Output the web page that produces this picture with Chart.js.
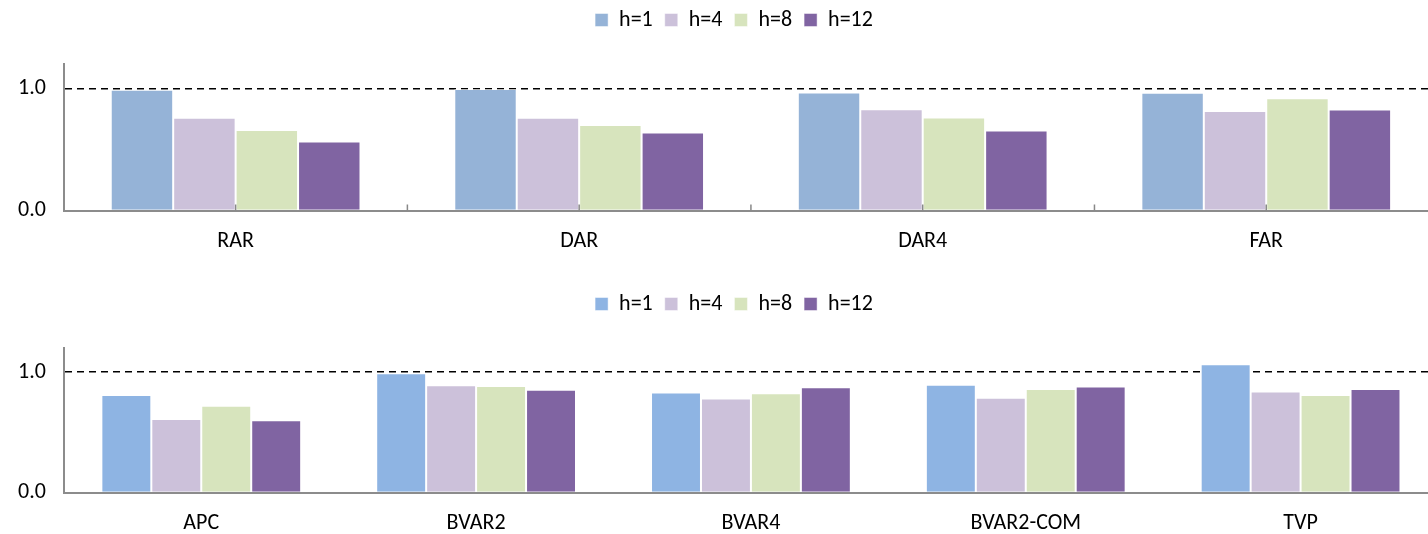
<!DOCTYPE html>
<html lang="en">
<head>
  <meta charset="UTF-8">
  <title>Relative forecast accuracy</title>
  <script src="https://cdn.jsdelivr.net/npm/chart.js"></script>
  <style>
    body {
      margin: 0;
      background: #ffffff;
      overflow: hidden;
    }
    .page {
      width: 1428px;
      height: 534px;
      overflow: hidden;
      position: relative;
    }
    .panel {
      position: absolute;
      left: 0;
      width: 1442px;
    }
    #top { top: -3px; height: 268px; }
    #bottom { top: 281px; height: 266px; }
  </style>
</head>
<body>

  <div class="page">
    <div class="panel" id="top"><canvas id="chartTop"></canvas></div>
    <div class="panel" id="bottom"><canvas id="chartBottom"></canvas></div>
  </div>

  <script>
    // data
    const horizons = ['h=1', 'h=4', 'h=8', 'h=12'];

    const topModels = ['RAR', 'DAR', 'DAR4', 'FAR'];
    const topH1  = [0.99, 0.995, 0.967, 0.964];
    const topH4  = [0.76, 0.76, 0.83, 0.815];
    const topH8  = [0.66, 0.70, 0.763, 0.92];
    const topH12 = [0.565, 0.64, 0.656, 0.827];

    const bottomModels = ['APC', 'BVAR2', 'BVAR4', 'BVAR2-COM', 'TVP'];
    const bottomH1  = [0.81, 0.99, 0.83, 0.895, 1.065];
    const bottomH4  = [0.61, 0.89, 0.78, 0.788, 0.84];
    const bottomH8  = [0.72, 0.884, 0.825, 0.86, 0.81];
    const bottomH12 = [0.60, 0.853, 0.875, 0.88, 0.86];

    const yTicks = [0, 1];

    const topColors = ['#95b3d7', '#ccc1da', '#d7e4bd', '#8064a2'];
    const bottomColors = ['#8eb4e3', '#ccc1da', '#d7e4bd', '#8064a2'];

    const FONT = 'Carlito, "Liberation Sans Narrow", "Liberation Sans", sans-serif';
    Chart.defaults.font.family = FONT;
    Chart.defaults.color = '#000';

    // extra room between legend and plot, legend nudged right
    const legendGap = {
      id: 'legendGap',
      beforeInit(chart) {
        const fit = chart.legend.fit;
        chart.legend.fit = function () {
          fit.bind(chart.legend)();
          this.height += 23;
        };
      },
      afterLayout(chart) {
        chart.legend.left += 15;
        chart.legend.right += 15;
      }
    };

    // small inward tick marks on the x axis (top panel only)
    const innerTicks = {
      id: 'innerTicks',
      afterDatasetsDraw(chart) {
        const x = chart.scales.x;
        const y0 = chart.scales.y.getPixelForValue(0);
        const half = (x.getPixelForValue(1) - x.getPixelForValue(0)) / 2;
        const ctx = chart.ctx;
        ctx.save();
        ctx.strokeStyle = '#888';
        ctx.lineWidth = 1.5;
        ctx.beginPath();
        for (let i = 0; i < chart.data.labels.length; i++) {
          const c = x.getPixelForValue(i);
          [c, c + half].forEach(px => {
            ctx.moveTo(px, y0);
            ctx.lineTo(px, y0 - 6);
          });
        }
        ctx.stroke();
        ctx.restore();
      }
    };

    function makeChart(canvasId, labels, series, colors, plugins) {
      return new Chart(document.getElementById(canvasId), {
        type: 'bar',
        data: {
          labels: labels,
          datasets: series.map((data, i) => ({
            label: horizons[i],
            data: data,
            backgroundColor: colors[i],
            borderColor: 'rgba(255,255,255,0.45)',
            borderWidth: 1,
            categoryPercentage: 0.727,
            barPercentage: 1.0
          }))
        },
        options: {
          responsive: true,
          maintainAspectRatio: false,
          animation: false,
          layout: { padding: { left: 0, right: 4, top: 0, bottom: 0 } },
          plugins: {
            legend: {
              position: 'top',
              labels: {
                boxWidth: 13,
                boxHeight: 13,
                padding: 12,
                font: { size: 22 }
              }
            },
            tooltip: { enabled: false }
          },
          scales: {
            x: {
              grid: { display: false },
              border: { display: true, color: '#8c8c8c', width: 2 },
              ticks: { padding: 10, font: { size: 22 } }
            },
            y: {
              min: 0,
              max: 1.2,
              afterBuildTicks: (scale) => {
                scale.ticks = yTicks.map(v => ({ value: v }));
              },
              ticks: {
                padding: 18,
                font: { size: 22 },
                callback: (v) => v.toFixed(1)
              },
              grid: {
                drawTicks: false,
                color: (ctx) => ctx.tick && ctx.tick.value === 1 ? '#000' : 'rgba(0,0,0,0)',
                lineWidth: 1.5
              },
              border: { display: true, color: '#8c8c8c', width: 2, dash: [7, 5] }
            }
          }
        },
        plugins: [legendGap].concat(plugins || [])
      });
    }

    makeChart('chartTop', topModels, [topH1, topH4, topH8, topH12], topColors, [innerTicks]);
    makeChart('chartBottom', bottomModels, [bottomH1, bottomH4, bottomH8, bottomH12], bottomColors);
  </script>

</body>
</html>
